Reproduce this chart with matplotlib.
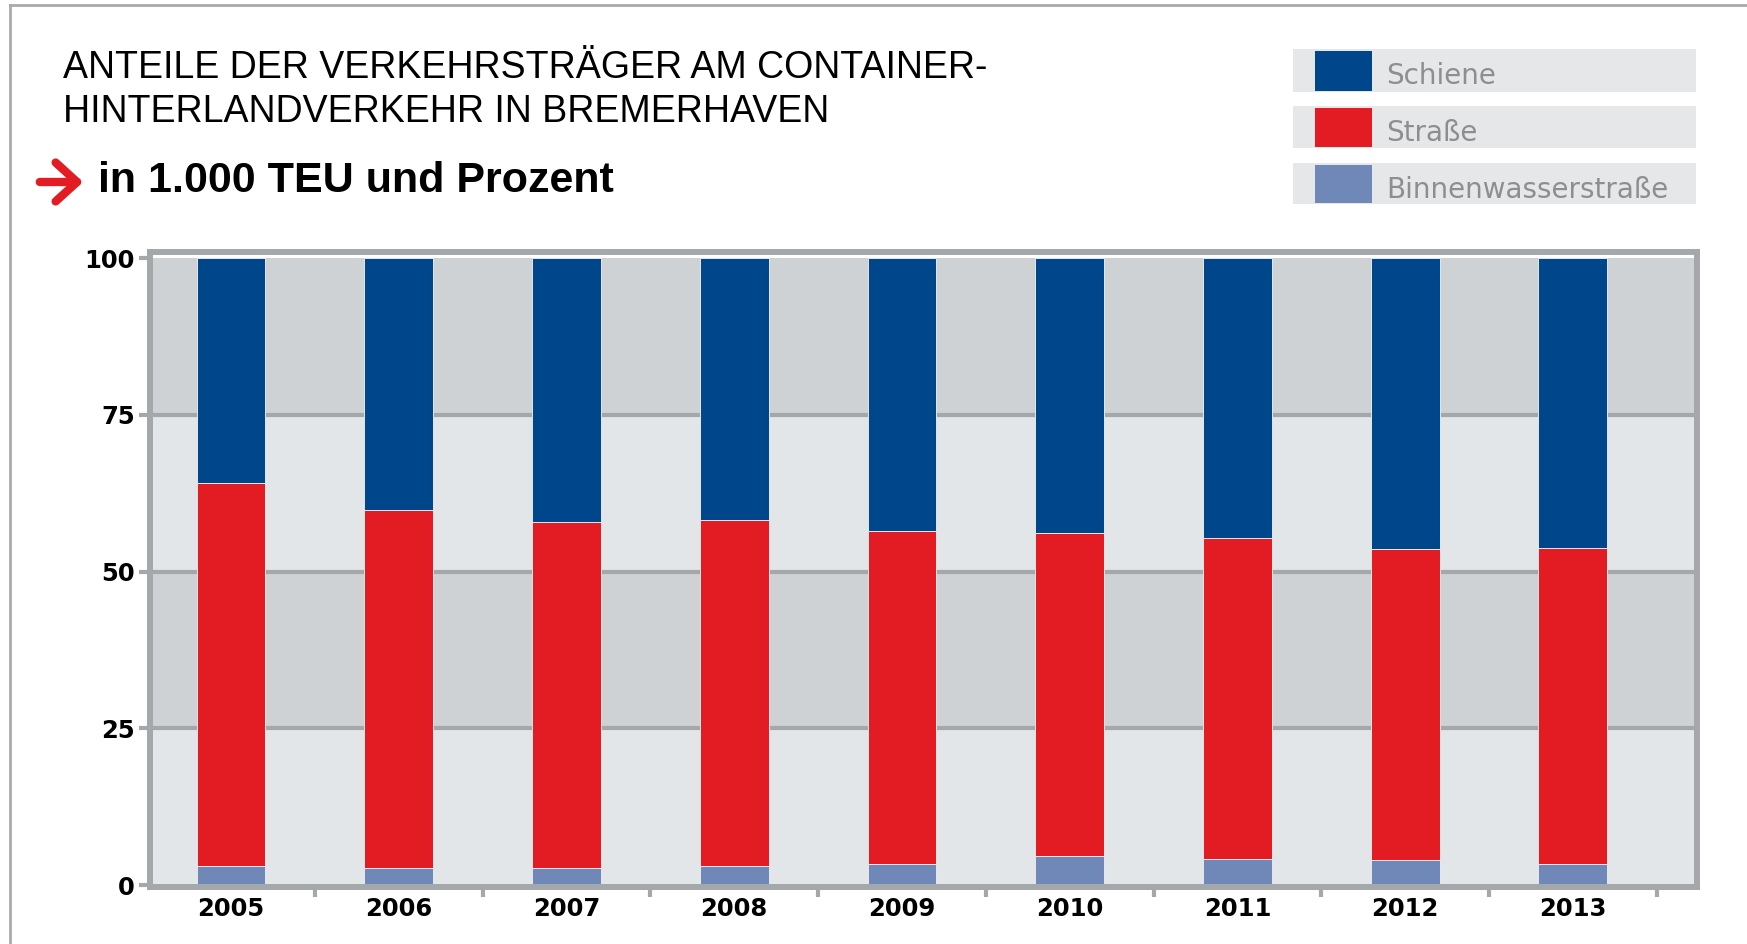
import numpy as np
import matplotlib
matplotlib.use("Agg")
import matplotlib.pyplot as plt
from matplotlib.patches import Rectangle, FancyArrowPatch
from matplotlib.lines import Line2D

# data (percent shares)
years = ["2005", "2006", "2007", "2008", "2009", "2010", "2011", "2012", "2013"]
binnen = [3.0, 2.7, 2.8, 3.1, 3.4, 4.6, 4.2, 4.0, 3.3]
strasse = [61.1, 57.1, 55.1, 55.1, 53.1, 51.5, 51.1, 49.6, 50.5]
schiene = [35.9, 40.2, 42.1, 41.8, 43.5, 43.9, 44.7, 46.4, 46.2]
series_names = ["Schiene", "Straße", "Binnenwasserstraße"]
y_ticks = [0, 25, 50, 75, 100]

c_schiene = "#00468a"
c_strasse = "#e31b23"
c_binnen = "#6f88b8"
colors = [c_schiene, c_strasse, c_binnen]
band_dark = "#cfd2d5"
band_light = "#e3e6e9"
frame_grey = "#a5a8ab"

W, H = 1747, 944
fig = plt.figure(figsize=(W / 100, H / 100), dpi=100)
fig.patch.set_facecolor("white")

def fx(px):
    return px / W

def fy(py):
    return 1 - py / H

ax = fig.add_axes([fx(150), fy(887), fx(1697) - fx(150), fy(252) - fy(887)])

# alternating background bands
for i in range(len(y_ticks) - 1):
    ax.axhspan(y_ticks[i], y_ticks[i + 1], color=band_light if i % 2 == 0 else band_dark, zorder=0, lw=0)
for t in y_ticks[1:-1]:
    ax.axhline(t, color=frame_grey, lw=3, zorder=1)

x = np.arange(len(years))
bw = 0.41
b1 = np.array(binnen)
b2 = b1 + np.array(strasse)
ax.bar(x, binnen, bw, color=c_binnen, edgecolor="#e6e8ea", lw=0.7, zorder=2)
ax.bar(x, strasse, bw, bottom=b1, color=c_strasse, edgecolor="#e6e8ea", lw=0.7, zorder=2)
ax.bar(x, schiene, bw, bottom=b2, color=c_schiene, edgecolor="#e6e8ea", lw=0.7, zorder=2)

ax.set_xlim(-0.483, 8.74)
ax.set_ylim(-0.3, 101)

for s in ax.spines.values():
    s.set_color(frame_grey)
    s.set_linewidth(4.3)

ax.set_yticks(y_ticks)
ax.set_yticklabels([str(t) for t in y_ticks])
ax.tick_params(axis="y", length=8, width=3, color=frame_grey, pad=3, labelsize=17.5)
ax.set_xticks(x)
ax.set_xticklabels(years)
ax.tick_params(axis="x", which="major", length=0, pad=7, labelsize=17.5)
ax.set_xticks(x + 0.5, minor=True)
ax.tick_params(axis="x", which="minor", length=7, width=3, color=frame_grey)
for lab in ax.get_xticklabels() + ax.get_yticklabels():
    lab.set_fontweight("bold")
    lab.set_family("DejaVu Sans")

# title and subtitle
fig.text(fx(63), fy(90), "ANTEILE DER VERKEHRSTRÄGER AM CONTAINER-\nHINTERLANDVERKEHR IN BREMERHAVEN",
         family="Liberation Sans", fontsize=27, va="center", ha="left", linespacing=1.28)
fig.text(fx(98), fy(181), "in 1.000 TEU und Prozent", family="Liberation Sans",
         fontweight="bold", fontsize=31, va="center", ha="left")
fig.add_artist(FancyArrowPatch(
    (fx(37), fy(182)), (fx(86), fy(182)), transform=fig.transFigure,
    arrowstyle="->,head_length=0.55,head_width=0.5", color=c_strasse, lw=6, mutation_scale=28))

# legend boxes
rows = [(49, 92), (106, 148), (163, 204)]
for (top, bot), name, col in zip(rows, series_names, colors):
    fig.add_artist(Rectangle((fx(1293), fy(bot)), fx(1696) - fx(1293), fy(top) - fy(bot),
                             transform=fig.transFigure, color="#e6e7e9", lw=0))
    fig.add_artist(Rectangle((fx(1315), fy(bot - 1)), fx(1372) - fx(1315), fy(top + 2) - fy(bot - 1),
                             transform=fig.transFigure, color=col, lw=0))
    fig.text(fx(1386), fy((top + bot) / 2 + 6), name, color="#8e8e8e", fontsize=20,
             family="DejaVu Sans", va="center", ha="left")

# thin outer border (top and left)
fig.add_artist(Line2D([fx(10), 1], [fy(5), fy(5)], transform=fig.transFigure, color="#aaaaaa", lw=2))
fig.add_artist(Line2D([fx(10), fx(10)], [0, fy(5)], transform=fig.transFigure, color="#aaaaaa", lw=2))

fig.savefig("out.png", dpi=100)
